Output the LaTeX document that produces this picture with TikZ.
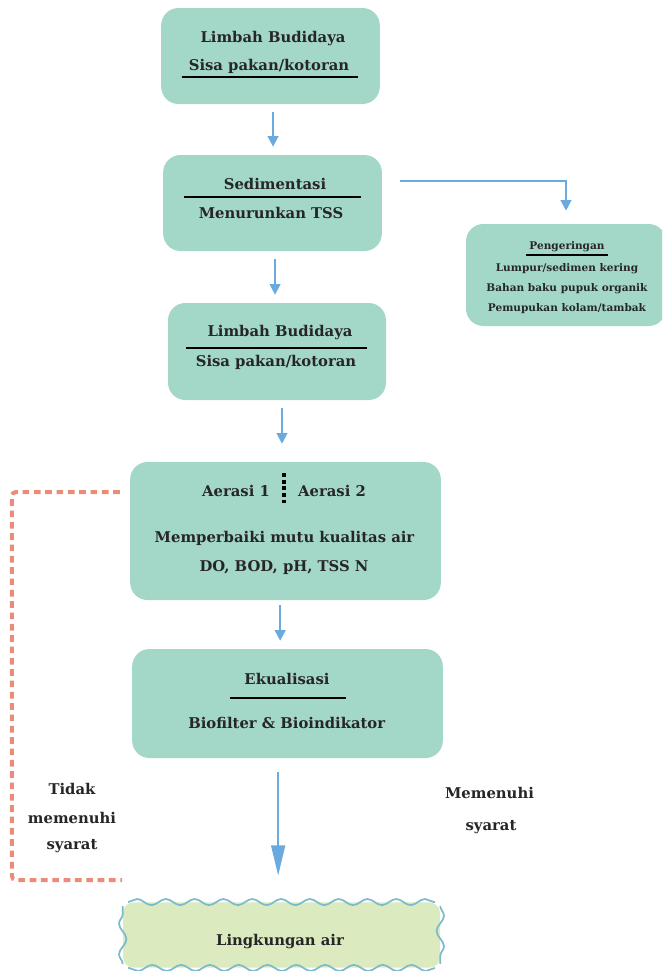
\documentclass[tikz,border=0pt]{standalone}
\usepackage{fontspec}
\setmainfont{DejaVu Serif}
\usetikzlibrary{positioning, arrows.meta, decorations.pathmorphing}

\definecolor{stagefill}{HTML}{A3D7C7}
\definecolor{flowblue}{HTML}{6AAADF}
\definecolor{backred}{HTML}{EC8B78}
\definecolor{waterfill}{HTML}{DCEABF}
\definecolor{waterline}{HTML}{7BBBCB}
\definecolor{ink}{HTML}{262626}

\tikzset{
  stage/.style={fill=stagefill, rounded corners=13pt, inner sep=0pt},
  lbl/.style={font=\bfseries\fontsize{11.1}{13}\selectfont, text=ink, anchor=base, inner sep=0pt},
  small/.style={font=\bfseries\fontsize{7.9}{9}\selectfont, text=ink, anchor=base, inner sep=0pt},
  rule/.style={line width=1.3pt, black},
  flow/.style={draw=flowblue, line width=1.5pt, -{Triangle[width=8pt,length=8pt]}, shorten <=6pt, shorten >=6pt},
  back/.style={draw=backred, line width=3pt, dash pattern=on 5pt off 3.5pt, rounded corners=3pt},
  water/.style={fill=waterfill, rounded corners=8pt, inner sep=0pt},
  wave/.style={draw=waterline, line width=1.3pt, decorate},
  wavetop/.style={wave, decoration={snake, segment length=21.6pt, amplitude=2.3pt}},
  waveside/.style={wave, decoration={snake, segment length=23pt, amplitude=2.8pt}}
}

\begin{document}
\begin{tikzpicture}[x=0.75pt, y=-0.75pt]
  \useasboundingbox (0,0) rectangle (662,971);
  \clip (0,0) rectangle (662,971);

  % process boxes
  \node[stage, minimum width=164pt, minimum height=72pt] (limbah1) at (270.5,56) {};
  \node[stage, minimum width=164pt, minimum height=72pt] (sedim) at (272.5,203) {};
  \node[stage, minimum width=150pt, minimum height=76.5pt] (dry) at (566,275) {};
  \node[stage, minimum width=163.5pt, minimum height=72.75pt] (limbah2) at (277,351.5) {};
  \node[stage, minimum width=233pt, minimum height=103.5pt] (aerasi) at (285.5,531) {};
  \node[stage, minimum width=233pt, minimum height=81.75pt] (ekual) at (287.5,703.5) {};

  % wavy outlet box
  \node[water, minimum width=237.75pt, minimum height=49pt] (env) at (281.5,935) {};
  \draw[wavetop] ([xshift=4pt]env.north west) -- ([xshift=-4pt]env.north east);
  \draw[wavetop] ([xshift=-4pt]env.south east) -- ([xshift=4pt]env.south west);
  \draw[waveside] ([yshift=-3pt]env.north east) -- ([yshift=3pt]env.south east);
  \draw[waveside] ([yshift=3pt]env.south west) -- ([yshift=-3pt]env.north west);

  % texts
  \node[lbl] (l1a) at (273,42.7) {Limbah Budidaya};
  \node[lbl] (l1b) at (269,70.7) {Sisa pakan/kotoran};
  \draw[rule] (181.7,76.7) -- (358,76.7);

  \node[lbl] (s1a) at (275,189.3) {Sedimentasi};
  \draw[rule] (184,197) -- (361,197);
  \node[lbl] (s1b) at (271,218.3) {Menurunkan TSS};

  \node[small] (d1) at (567,249) {Pengeringan};
  \draw[line width=1pt] (526,255) -- (608,255);
  \node[small] (d2) at (567,271) {Lumpur/sedimen kering};
  \node[small] (d3) at (567,291.7) {Bahan baku pupuk organik};
  \node[small] (d4) at (567,311.7) {Pemupukan kolam/tambak};

  \node[lbl] (l2a) at (280,336) {Limbah Budidaya};
  \draw[rule] (186,348) -- (367,348);
  \node[lbl] (l2b) at (276,366) {Sisa pakan/kotoran};

  \node[lbl] (a1) at (236,496) {Aerasi 1};
  \node[lbl] (a2) at (332,496) {Aerasi 2};
  \draw[line width=2.4pt, dash pattern=on 3pt off 2pt] (284,473) -- (284,503);
  \node[lbl] (a3) at (284.5,542.3) {Memperbaiki mutu kualitas air};
  \node[lbl] (a4) at (284,571) {DO, BOD, pH, TSS N};

  \node[lbl] (e1) at (287,684) {Ekualisasi};
  \draw[rule] (230,698.3) -- (346,698.3);
  \node[lbl] (e2) at (286.7,728.7) {Biofilter \& Bioindikator};

  \node[lbl] (w1) at (280,945) {Lingkungan air};

  \node[lbl] (t1) at (72,794.3) {Tidak};
  \node[lbl] (t2) at (72,823.3) {memenuhi};
  \node[lbl] (t3) at (72,849) {syarat};
  \node[lbl] (m1) at (489.5,798.3) {Memenuhi};
  \node[lbl] (m2) at (491,830) {syarat};

  % connectors
  \draw[flow] ([xshift=1.9pt]limbah1.south) -- ([xshift=1.9pt]limbah1.south |- sedim.north);
  \draw[flow] ([xshift=1.9pt]sedim.south) -- ([xshift=1.9pt]sedim.south |- limbah2.north);
  \draw[flow, shorten >=13.5pt] ([xshift=3.75pt]limbah2.south) -- ([xshift=3.75pt]limbah2.south |- aerasi.north);
  \draw[flow, shorten <=3.75pt] ([xshift=-4pt]aerasi.south) -- ([xshift=-4pt]aerasi.south |- ekual.north);
  \draw[flow, line width=1.1pt, -{Triangle[width=10.5pt,length=22.5pt]}, shorten <=10.5pt, shorten >=20pt]
    ([xshift=-7pt]ekual.south) -- ([xshift=-7pt]ekual.south |- env.north);
  \draw[flow, shorten <=13.5pt, shorten >=9.75pt] ([yshift=16.5pt]sedim.east) -| (dry.north);

  \coordinate (backend) at (122,880);
  \draw[back] ([xshift=-7.5pt,yshift=29.25pt]aerasi.west) -- ++(-108,0) |- (backend);
\end{tikzpicture}
\end{document}
